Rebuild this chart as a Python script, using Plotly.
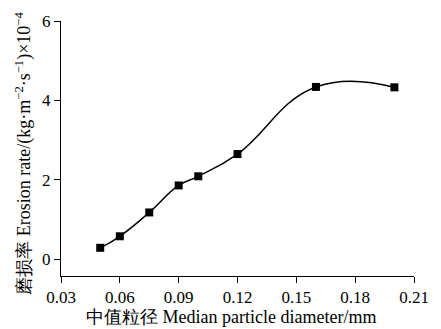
import plotly.graph_objects as go

diameter = [0.05, 0.06, 0.075, 0.09, 0.10, 0.12, 0.16, 0.20]
erosion = [0.29, 0.58, 1.18, 1.86, 2.09, 2.65, 4.34, 4.33]
x_ticks = [0.03, 0.06, 0.09, 0.12, 0.15, 0.18, 0.21]
x_labels = ["0.03", "0.06", "0.09", "0.12", "0.15", "0.18", "0.21"]
y_ticks = [0, 2, 4, 6]
x_title = "中值粒径 Median particle diameter/mm"
y_title = "磨损率 Erosion rate/(kg·m<sup>−2</sup>·s<sup>−1</sup>)×10<sup>−4</sup>"

font = "Liberation Serif"

fig = go.Figure()
fig.add_trace(go.Scatter(
    x=diameter, y=erosion, mode="lines+markers",
    line=dict(color="black", width=1.5, shape="spline", smoothing=1.3),
    marker=dict(symbol="square", size=8, color="black"),
    showlegend=False,
))
fig.update_layout(
    width=441, height=329,
    margin=dict(l=61, r=24, t=16, b=53),
    paper_bgcolor="white", plot_bgcolor="white",
    font=dict(family=font, size=17, color="black"),
    xaxis=dict(range=[0.03, 0.21], tickvals=x_ticks, ticktext=x_labels,
               showgrid=False, zeroline=False, showline=True, linecolor="black",
               linewidth=1, ticks="outside", ticklen=6, tickcolor="black",
               tickfont=dict(family=font, size=17)),
    yaxis=dict(range=[-0.42, 6], tickvals=y_ticks,
               showgrid=False, zeroline=False, showline=True, linecolor="black",
               linewidth=1, ticks="outside", ticklen=6, tickcolor="black",
               tickfont=dict(family=font, size=17)),
    annotations=[
        dict(text=x_title, xref="paper", yref="paper", x=0.483, y=-0.162,
             xanchor="center", yanchor="middle", showarrow=False,
             font=dict(family=font, size=18, color="black")),
        dict(text=y_title, xref="paper", yref="paper", x=-0.104, y=0.481,
             xanchor="center", yanchor="middle", showarrow=False, textangle=-90,
             font=dict(family=font, size=18, color="black")),
    ],
)
fig.write_html("out.html")
